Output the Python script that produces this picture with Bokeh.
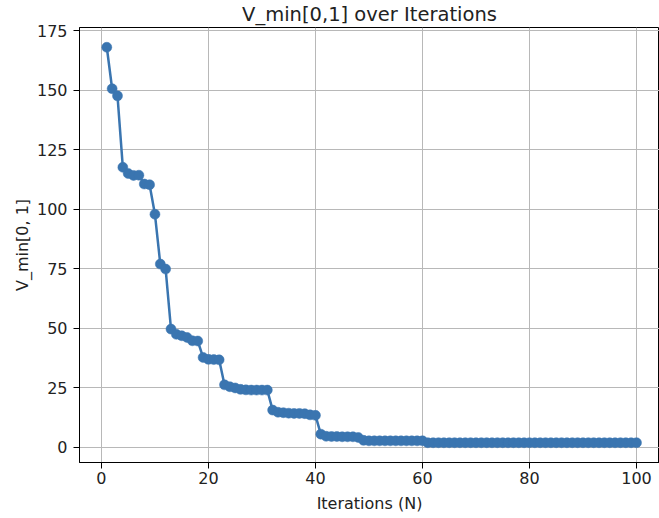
from bokeh.plotting import figure
from bokeh.models import Range1d, FixedTicker
from bokeh.embed import file_html
from bokeh.resources import INLINE

iterations = list(range(1, 101))
v_min = [168.0, 150.6, 147.6, 117.6, 115.0, 114.2, 114.3, 110.6, 110.3, 97.9,
         77.0, 74.9, 49.7, 47.5, 46.9, 46.2, 44.8, 44.7, 37.8, 37.0,
         36.9, 36.8, 26.3, 25.5, 25.0, 24.4, 24.2, 24.1, 24.1, 24.1,
         24.1, 15.7, 14.8, 14.6, 14.4, 14.3, 14.3, 14.2, 13.7, 13.5,
         5.6, 4.7, 4.6, 4.6, 4.5, 4.5, 4.5, 4.2, 3.0, 2.8,
         2.8, 2.8, 2.8, 2.8, 2.8, 2.8, 2.8, 2.8, 2.8, 2.8,
         2.0, 2.0, 2.0, 2.0, 2.0, 2.0, 2.0, 2.0, 2.0, 2.0,
         2.0, 2.0, 2.0, 2.0, 2.0, 2.0, 2.0, 2.0, 2.0, 2.0,
         2.0, 2.0, 2.0, 2.0, 2.0, 2.0, 2.0, 2.0, 2.0, 2.0,
         2.0, 2.0, 2.0, 2.0, 2.0, 2.0, 2.0, 2.0, 2.0, 2.0]
x_ticks = [0, 20, 40, 60, 80, 100]
y_ticks = [0, 25, 50, 75, 100, 125, 150, 175]
title_text = "V_min[0,1] over Iterations"
x_label = "Iterations (N)"
y_label = "V_min[0, 1]"

FONT = "DejaVu Sans"
BLUE = "#3a75b0"
TEXT = "#222222"

p = figure(width=659, height=518, output_backend="svg", toolbar_location=None,
           x_range=Range1d(-4.1, 104.3), y_range=Range1d(-6.3, 176.3),
           min_border_left=79, min_border_right=0, min_border_top=27, min_border_bottom=56,
           background_fill_color="white", border_fill_color="white",
           title=title_text)

p.title.align = "center"
p.title.vertical_align = "middle"
p.title.text_font = FONT
p.title.text_font_size = "19.5px"
p.title.text_font_style = "normal"
p.title.text_color = TEXT
p.title.standoff = 2

p.outline_line_color = "black"
p.outline_line_width = 1

p.xaxis.ticker = FixedTicker(ticks=x_ticks)
p.yaxis.ticker = FixedTicker(ticks=y_ticks)
p.xgrid.ticker = FixedTicker(ticks=x_ticks)
p.ygrid.ticker = FixedTicker(ticks=y_ticks)
for g in (p.xgrid, p.ygrid):
    g.grid_line_color = "#b8b8b8"
    g.grid_line_width = 1

for ax in (p.xaxis, p.yaxis):
    ax.axis_line_color = "black"
    ax.axis_line_width = 1
    ax.major_tick_in = 0
    ax.major_tick_out = 6
    ax.major_tick_line_color = "black"
    ax.minor_tick_line_color = None
    ax.major_label_text_font = FONT
    ax.major_label_text_font_size = "16px"
    ax.major_label_text_color = TEXT
    ax.axis_label_text_font = FONT
    ax.axis_label_text_font_size = "16px"
    ax.axis_label_text_font_style = "normal"
    ax.axis_label_text_color = TEXT

p.xaxis.major_label_standoff = 3
p.yaxis.major_label_standoff = 6
p.xaxis.axis_label = x_label
p.xaxis.axis_label_standoff = 7
p.yaxis.axis_label = y_label
p.yaxis.axis_label_standoff = 2

p.line(iterations, v_min, line_color=BLUE, line_width=2.5)
p.scatter(iterations, v_min, size=10, fill_color=BLUE, line_color=BLUE, line_width=0.5)

open("out.html", "w").write(file_html(p, INLINE))
